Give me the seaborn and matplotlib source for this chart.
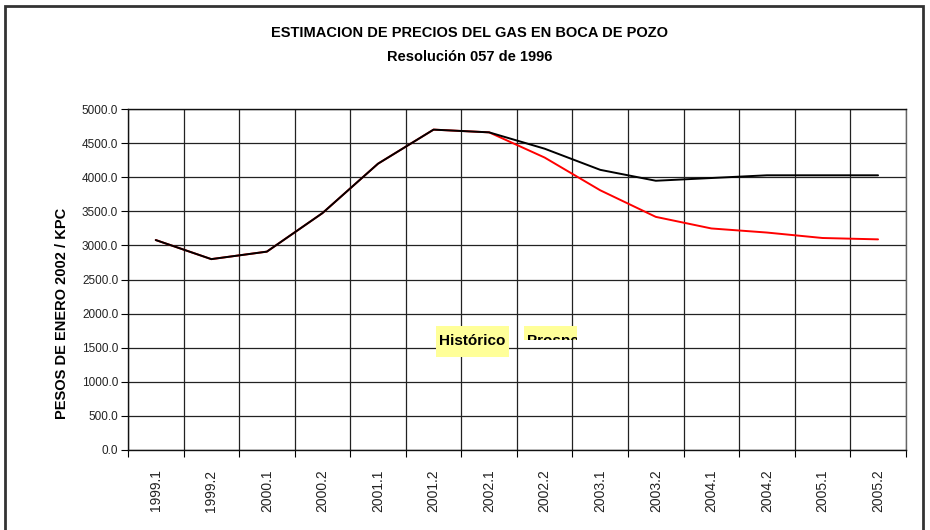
import pandas as pd
import matplotlib.pyplot as plt
import seaborn as sns
from matplotlib.patches import Rectangle
from matplotlib.transforms import Bbox, TransformedBbox
from matplotlib.ticker import FixedLocator, NullFormatter, FuncFormatter

# datos
periodos = ['1999.1', '1999.2', '2000.1', '2000.2', '2001.1', '2001.2', '2002.1',
            '2002.2', '2003.1', '2003.2', '2004.1', '2004.2', '2005.1', '2005.2']
serie_negra = [3080, 2800, 2910, 3475, 4200, 4700, 4660,
               4420, 4110, 3950, 3990, 4030, 4030, 4030]
serie_roja = [3080, 2800, 2910, 3475, 4200, 4700, 4660,
              4290, 3810, 3420, 3250, 3190, 3110, 3090]

df = pd.DataFrame({'Periodo': periodos, 'negra': serie_negra, 'roja': serie_roja})

sns.set_theme(style="white")
fuente = ['Liberation Sans Narrow', 'Liberation Sans', 'DejaVu Sans']
plt.rcParams['font.family'] = fuente
plt.rcParams['text.color'] = 'black'
plt.rcParams['axes.labelcolor'] = 'black'

fig = plt.figure(figsize=(9.3, 5.3), dpi=100)
ax = fig.add_axes([0.1376, 0.151, 0.8364, 0.643])

sns.lineplot(data=df, x='Periodo', y='roja', color='#ff0000', lw=1.4, ax=ax, sort=False)
sns.lineplot(data=df, x='Periodo', y='negra', color='black', lw=1.4, ax=ax, sort=False)

n = len(periodos)
ax.set_xlim(-0.5, n - 0.5)
ax.set_ylim(0, 5000)
ax.set_yticks(range(0, 5001, 500))
ax.yaxis.set_major_formatter(FuncFormatter(lambda v, p: f'{v:.1f}'))

# cuadricula entre categorias
ax.xaxis.set_minor_locator(FixedLocator([i - 0.5 for i in range(n + 1)]))
ax.xaxis.set_minor_formatter(NullFormatter())
ax.set_xticks(range(n))
ax.set_xticklabels(periodos, rotation=90)
ax.tick_params(axis='x', which='major', length=0, pad=14, labelsize=10, labelcolor='#222222')
ax.tick_params(axis='x', which='minor', length=5, width=0.8, direction='out', color='black', bottom=True)
ax.tick_params(axis='y', length=5, width=0.8, direction='out', color='black', left=True,
               labelsize=8.5, labelcolor='#222222', pad=2)
ax.grid(False)
ax.grid(True, axis='x', which='minor', color='#222222', lw=0.9)
ax.grid(True, axis='y', which='major', color='#222222', lw=0.9)
for s in ax.spines.values():
    s.set_color('#111111')
    s.set_linewidth(1.0)
ax.spines['right'].set_color('#666666')

ax.set_xlabel('')
ax.set_ylabel('PESOS DE ENERO 2002 / KPC', fontsize=10.5, fontweight='bold')
ax.yaxis.set_label_coords(-0.076, 0.40)

fig.text(0.505, 0.938, 'ESTIMACION DE PRECIOS DEL GAS EN BOCA DE POZO',
         ha='center', va='center', fontsize=10.5, fontweight='bold')
fig.text(0.505, 0.892, 'Resolución 057 de 1996', ha='center', va='center',
         fontsize=10.5, fontweight='bold')

# cuadros de texto
ax.add_patch(Rectangle((5.04, 1364), 1.31, 454, facecolor='#ffff99', edgecolor='none', zorder=4))
ax.text(5.69, 1600, 'Histórico', ha='center', va='center', fontsize=11,
        fontweight='bold', zorder=5)
ax.add_patch(Rectangle((6.62, 1613), 0.97, 205, facecolor='#ffff99', edgecolor='none', zorder=4))
t = ax.text(6.69, 1600, 'Prospectivo', ha='left', va='center', fontsize=11,
            fontweight='bold', zorder=5, clip_on=True)
t.set_clip_path(None)
t.set_clip_box(TransformedBbox(Bbox([[6.62, 1613], [7.59, 1818]]), ax.transData))

# marco exterior
fig.patches.append(Rectangle((0.005, -0.01), 0.987, 0.999, transform=fig.transFigure,
                             fill=False, edgecolor='#333333', lw=2))

plt.savefig('out.png', dpi=100)
